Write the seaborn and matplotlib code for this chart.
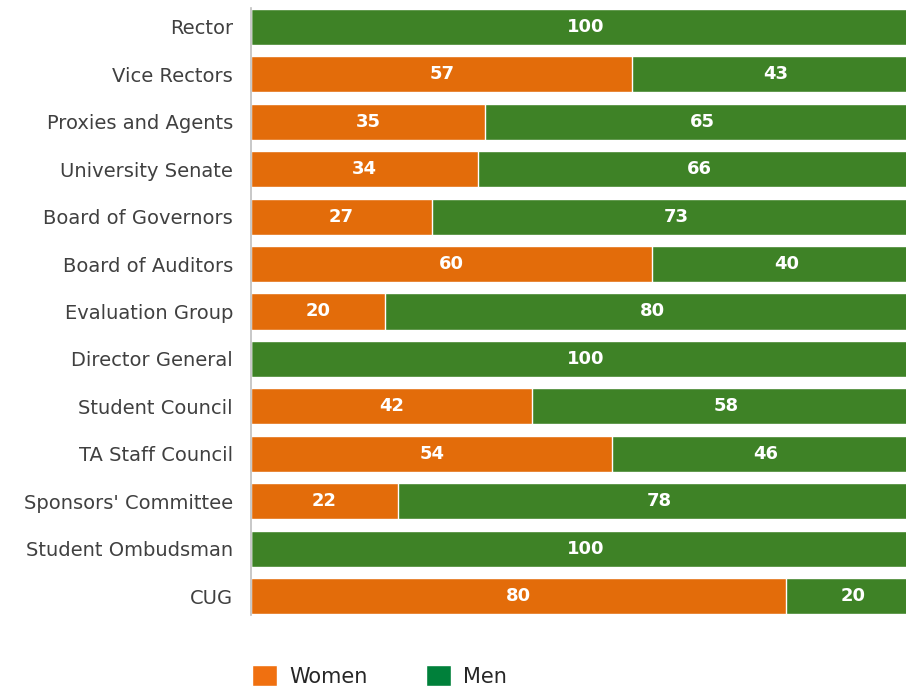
import matplotlib
matplotlib.use("Agg")
import matplotlib.pyplot as plt
from matplotlib.patches import Patch
import seaborn as sns
import pandas as pd

bodies = ["Rector", "Vice Rectors", "Proxies and Agents", "University Senate",
          "Board of Governors", "Board of Auditors", "Evaluation Group",
          "Director General", "Student Council", "TA Staff Council",
          "Sponsors' Committee", "Student Ombudsman", "CUG"]
women = [0, 57, 35, 34, 27, 60, 20, 0, 42, 54, 22, 0, 80]
men = [100, 43, 65, 66, 73, 40, 80, 100, 58, 46, 78, 100, 20]

ORANGE = "#E36C0A"
GREEN = "#3E8226"
LEGEND_GREEN = "#00803A"
LEGEND_ORANGE = "#F07010"

df = pd.DataFrame({"body": bodies, "women": women, "men": men})
df["total"] = df["women"] + df["men"]

sns.set_theme(style="white")
plt.rcParams["font.family"] = ["DejaVu Sans"]

fig = plt.figure(figsize=(9.06, 6.91), dpi=100)
ax = fig.add_axes([251 / 906, 1 - 620 / 691, (920 - 251) / 906, (620 - 3) / 691])

# stacked bars: the full (women + men) bar in green, women drawn over it in orange
sns.barplot(data=df, x="total", y="body", color=GREEN, width=0.76,
            saturation=1, ax=ax, orient="h")
sns.barplot(data=df, x="women", y="body", color=ORANGE, width=0.76,
            saturation=1, ax=ax, orient="h")

for i, (w, m) in enumerate(zip(women, men)):
    if w > 0:
        ax.text(w / 2, i, f"{w}", ha="center", va="center", color="white",
                fontsize=13, fontweight="bold")
    if m > 0:
        ax.text(w + m / 2, i, f"{m}", ha="center", va="center", color="white",
                fontsize=13, fontweight="bold")

ax.set_xlim(0, 100)
ax.set_ylim(12.5, -0.5)
ax.set_xlabel("")
ax.set_ylabel("")
ax.set_xticks([])
ax.tick_params(axis="y", length=0, pad=13, labelsize=14, labelcolor="#404040")
for s in ["top", "right", "bottom"]:
    ax.spines[s].set_visible(False)
ax.spines["left"].set_color("#BFBFBF")
ax.spines["left"].set_linewidth(1.2)
ax.spines["left"].set_bounds(-0.4, 12.4)

handles = [Patch(facecolor=LEGEND_ORANGE, label="Women"),
           Patch(facecolor=LEGEND_GREEN, label="Men")]
fig.legend(handles=handles, loc="center left", ncol=2,
           bbox_to_anchor=(233 / 906, 1 - 676 / 691), frameon=False, fontsize=15,
           handlelength=1.2, handleheight=1.15, handletextpad=0.6,
           columnspacing=2.8, labelcolor="#262626")

fig.savefig("out.png", dpi=100)
